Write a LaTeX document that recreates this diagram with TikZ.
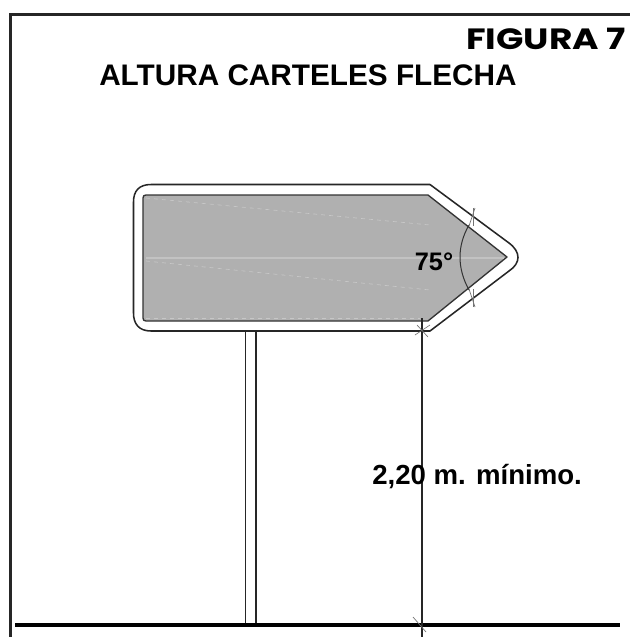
\documentclass[tikz,border=0pt]{standalone}
\usepackage{fontspec}
\setmainfont{Liberation Sans}
\newfontfamily\figfont{Poppins}[BoldFont={Poppins Bold}]
\usetikzlibrary{calc}
\tikzset{
  frameline/.style={line width=1.7pt,color=black!85},
  outline/.style={line width=1.15pt,color=black!85},
  panel/.style={draw=black!80,line width=1pt,fill=black!31,line join=round},
  ghost/.style={black!22,line width=0.5pt,dashed},
  thinline/.style={line width=0.9pt,color=black!85},
  tick/.style={line width=0.5pt,color=black!55},
  title/.style={inner sep=0pt,anchor=base west,text=black}
}
\begin{document}
\begin{tikzpicture}[x=0.75pt,y=-0.75pt]
\useasboundingbox (0,0) rectangle (630,637);
\fill[white] (0,0) rectangle (630,637);
% frame
\coordinate (fa) at (10.5,637); \coordinate (fb) at (10.5,14.5); \coordinate (fc) at (630,14.5);
\draw[frameline] (fa) -- (fb) -- (fc);
% post
\coordinate (pa) at (245.5,331); \coordinate (pb) at (245.5,624);
\coordinate (pc) at (256,331); \coordinate (pd) at (256,624);
\draw[thinline] (pa) -- (pb) (pc) -- (pd);
% sign outer
\draw[outline,line join=round]
  (430,184.5) -- (509,243)
  .. controls (521,252) and (521,263) .. (509,271)
  -- (430,331) -- (344,331);
\draw[outline,line join=round]
  (344,331) -- (151,331)
  .. controls (139,331) and (133.5,324) .. (133.5,313)
  -- (133.5,202)
  .. controls (133.5,191) and (139,184.5) .. (151,184.5) -- (430,184.5);
% sign panel
\draw[panel] (146,195) -- (428,195) -- (507,257) -- (428,321) -- (146,321)
  .. controls (144,321) and (143,320) .. (143,318)
  -- (143,198) .. controls (143,196) and (144,195) .. (146,195) -- cycle;
% faint lines
\draw[ghost] (146,198) -- (430,225);
\draw[ghost] (146,261) -- (430,290);
\draw[black!24,line width=1pt] (146,258) -- (504,258);
\draw[ghost] (146,318) -- (420,318);
% angle arc
\draw[line width=0.75pt,black!80] (469,225) .. controls (457,246) and (457,268) .. (469,290);
\draw[tick] (473,208) -- (473,226);
\draw[tick] (469,226) -- (475,208);
\draw[tick] (473,289) -- (473,307);
\draw[tick] (469,289) -- (475,307);
\node[font=\bfseries\fontsize{19pt}{19pt}\selectfont,inner sep=0pt] (ang) at (434,262) {75°};
% ground
\coordinate (ga) at (15,624.5); \coordinate (gb) at (620,624.5);
\draw[line width=3pt,black] (ga) -- (gb);
% dimension
\coordinate (da) at (422,318); \coordinate (db) at (422,637);
\draw[thinline] (da) -- (db);
\draw[tick] (417,325) -- (428,337);
\draw[tick] (415,335) -- (430,325);
\draw[tick] (413,617) -- (426,632);
\node[font=\bfseries\fontsize{20.7pt}{20.7pt}\selectfont,title] (dim) at (372,484) {2,20 m. mínimo.};
% titles
\node[font=\bfseries\fontsize{22.3pt}{22.3pt}\selectfont,title] (ttl) at (99,85) {ALTURA CARTELES FLECHA};
\node[font=\figfont\bfseries\fontsize{22pt}{22pt}\selectfont,title] (fig) at (466,49) {\scalebox{1.225}[1]{FIGURA 7}};
\end{tikzpicture}
\end{document}
